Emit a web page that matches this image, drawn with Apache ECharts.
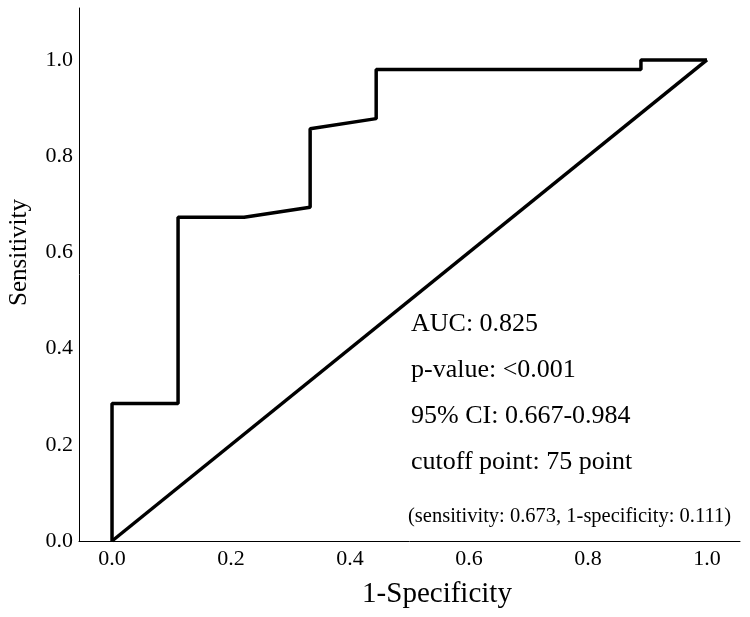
<!DOCTYPE html>
<html>
<head>
<meta charset="utf-8">
<script src="https://cdn.jsdelivr.net/npm/echarts@6/dist/echarts.min.js"></script>
<style>
html,body{margin:0;padding:0;background:#fff;}
#main{width:750px;height:617px;}
</style>
</head>
<body>
<div id="main"></div>
<script>
var fpr = [0, 0, 0.111, 0.111, 0.222, 0.333, 0.333, 0.444, 0.444, 0.889, 0.889, 1];
var tpr = [0, 0.286, 0.286, 0.673, 0.673, 0.694, 0.857, 0.878, 0.98, 0.98, 1, 1];
var refX = [0, 1];
var refY = [0, 1];
var tickVals = [0, 0.2, 0.4, 0.6, 0.8, 1.0];
var notes = ['AUC: 0.825', 'p-value: <0.001', '95% CI: 0.667-0.984', 'cutoff point: 75 point'];
var noteSmall = '(sensitivity: 0.673, 1-specificity: 0.111)';

var font = '"Liberation Serif", "Times New Roman", serif';
var myChart = echarts.init(document.getElementById('main'));

var roc = fpr.map(function (v, i) { return [v, tpr[i]]; });
var ref = refX.map(function (v, i) { return [v, refY[i]]; });

// text block in the lower right
var texts = notes.map(function (t, i) {
    return {
        type: 'text', left: 411, top: 311 + i * 46,
        style: { text: t, font: '26px ' + font, fill: '#000' }
    };
});
texts.push({
    type: 'text', left: 408, top: 506,
    style: { text: noteSmall, font: '20.5px ' + font, fill: '#000' }
});

var option = {
    animation: false,
    grid: { left: 79, right: 10, top: 8, bottom: 76, containLabel: false, outerBoundsMode: 'none' },
    xAxis: {
        type: 'value', min: -0.0555, max: 1.0555,
        name: '1-Specificity', nameLocation: 'middle', nameGap: 39,
        nameTextStyle: { fontFamily: font, fontSize: 29, color: '#000', padding: [0, 0, 0, 55] },
        axisLine: { show: true, onZero: false, lineStyle: { color: '#000', width: 1 } },
        axisTick: { show: false },
        splitLine: { show: false },
        axisLabel: {
            fontFamily: font, fontSize: 22, color: '#000', margin: 7,
            customValues: tickVals,
            formatter: function (v) { return v.toFixed(1); }
        }
    },
    yAxis: {
        type: 'value', min: 0, max: 1.108,
        name: 'Sensitivity', nameLocation: 'middle', nameGap: 47,
        nameTextStyle: { fontFamily: font, fontSize: 25, color: '#000', padding: [0, 0, 0, 44] },
        axisLine: { show: true, onZero: false, lineStyle: { color: '#000', width: 1 } },
        axisTick: { show: false },
        splitLine: { show: false },
        axisLabel: {
            fontFamily: font, fontSize: 22, color: '#000', margin: 6,
            customValues: tickVals,
            formatter: function (v) { return v.toFixed(1); }
        }
    },
    series: [
        {
            type: 'line', data: roc, symbol: 'none',
            lineStyle: { color: '#000', width: 3.5 }
        },
        {
            type: 'line', data: ref, symbol: 'none',
            lineStyle: { color: '#000', width: 3.5 }
        }
    ],
    graphic: texts
};
myChart.setOption(option);
</script>
</body>
</html>
